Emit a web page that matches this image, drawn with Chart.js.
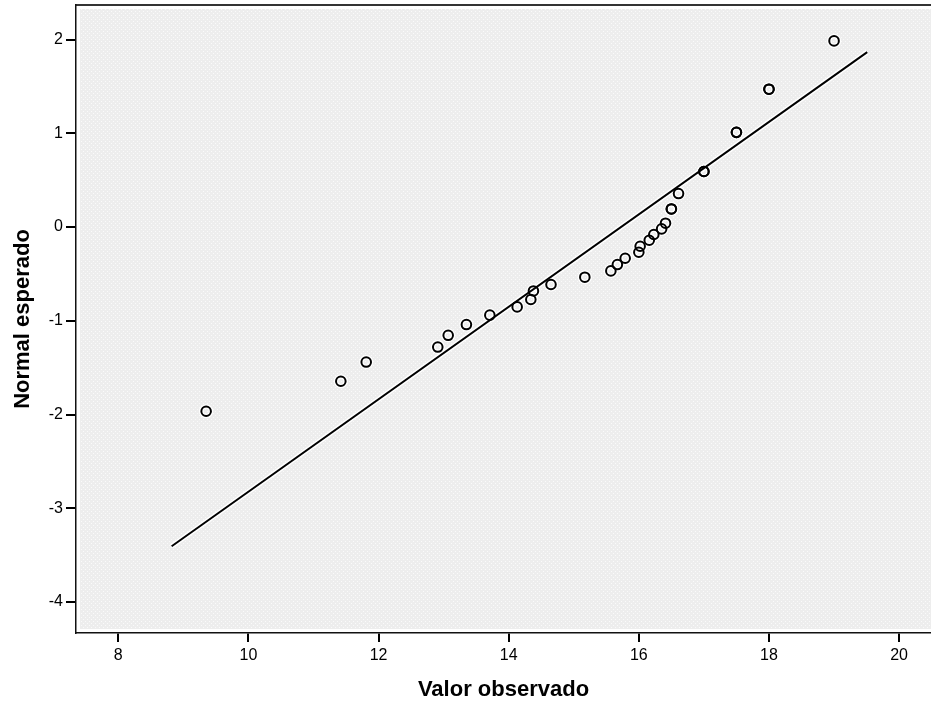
<!DOCTYPE html>
<html>
<head>
<meta charset="utf-8">
<script src="https://cdn.jsdelivr.net/npm/chart.js@4.4.1/dist/chart.umd.min.js"></script>
<style>
  html, body { margin: 0; padding: 0; background: #fff; }
</style>
</head>
<body>
<canvas id="myChart" width="931" height="704"></canvas>
<script>
// observed values and their expected normal scores (tied values listed twice)
const observed = [9.35, 11.42, 11.81, 12.91, 13.07, 13.35, 13.71, 14.13, 14.34, 14.38, 14.65, 15.17,
    15.57, 15.67, 15.79, 16.0, 16.02, 16.16, 16.23, 16.35, 16.41, 16.5, 16.5, 16.61, 17.0, 17.0,
    17.5, 17.5, 18.0, 18.0, 19.0];
const expected = [-1.965, -1.645, -1.44, -1.28, -1.155, -1.04, -0.94, -0.852, -0.773, -0.682, -0.613, -0.535,
    -0.468, -0.40, -0.333, -0.269, -0.205, -0.141, -0.08, -0.02, 0.041, 0.193, 0.193, 0.357, 0.592, 0.592,
    1.01, 1.01, 1.47, 1.47, 1.985];

// reference line end points
const lineX = [8.82, 19.51];
const lineY = [-3.405, 1.865];

const xTicks = [8, 10, 12, 14, 16, 18, 20];
const yTicks = [-4, -3, -2, -1, 0, 1, 2];

const ctx = document.getElementById('myChart').getContext('2d');

const makePattern = () => {
    const c = document.createElement('canvas');
    c.width = 4; c.height = 4;
    const p = c.getContext('2d');
    p.fillStyle = '#ededed';
    p.fillRect(0, 0, 4, 4);
    p.fillStyle = '#fafafa';
    p.fillRect(1, 1, 1, 1);
    p.fillRect(3, 3, 1, 1);
    return ctx.createPattern(c, 'repeat');
};
const bgPattern = makePattern();

const points = observed.map((x, i) => ({ x: x, y: expected[i] }));
const refLine = lineX.map((x, i) => ({ x: x, y: lineY[i] }));

const framePlugin = {
    id: 'frame',
    beforeDraw(chart) {
        const { ctx, chartArea: a } = chart;
        ctx.save();
        ctx.fillStyle = '#fff';
        ctx.fillRect(a.left, a.top, a.right - a.left, a.bottom - a.top);
        ctx.fillStyle = bgPattern;
        ctx.fillRect(a.left + 4, a.top + 4, a.right - a.left - 4, a.bottom - a.top - 8);
        ctx.strokeStyle = '#333';
        ctx.lineWidth = 2;
        ctx.beginPath();
        ctx.moveTo(a.left, a.top);
        ctx.lineTo(a.right, a.top);
        ctx.stroke();
        ctx.restore();
    }
};

const font = 'Arial, "Liberation Sans", sans-serif';

const myChart = new Chart(ctx, {
    type: 'scatter',
    data: {
        datasets: [
            { data: points, pointRadius: 4.8, pointBorderWidth: 2, pointBorderColor: '#000',
              pointBackgroundColor: 'rgba(0,0,0,0)', showLine: false, order: 0 },
            { type: 'line', data: refLine, borderColor: '#000', borderWidth: 2, pointRadius: 0, order: 1 },
            { data: points, pointRadius: 4.8, pointBorderWidth: 4.5, pointBorderColor: '#fff',
              pointBackgroundColor: 'rgba(0,0,0,0)', showLine: false, order: 2 },
            { type: 'line', data: refLine, borderColor: '#fff', borderWidth: 5, pointRadius: 0, order: 3 },
        ]
    },
    options: {
        responsive: false,
        animation: false,
        devicePixelRatio: 1,
        layout: { autoPadding: false, padding: { top: 5, right: 0, left: 0, bottom: 0 } },
        plugins: {
            legend: { display: false },
            tooltip: { enabled: false },
        },
        scales: {
            x: {
                type: 'linear', min: 7.35, max: 20.49,
                afterBuildTicks: s => { s.ticks = xTicks.map(v => ({ value: v })); },
                afterFit: s => { s.height = 71; s.paddingLeft = 0; s.paddingRight = 0; },
                grid: { drawOnChartArea: false, drawTicks: true, tickLength: 9, color: '#000', lineWidth: 2 },
                border: { display: true, color: '#111', width: 1.5 },
                ticks: { color: '#000', font: { family: font, size: 16 }, padding: 4, maxRotation: 0 },
                title: { display: true, text: 'Valor observado', color: '#000',
                    font: { family: font, size: 22, weight: 'bold' }, padding: { top: 0, bottom: 1 } },
            },
            y: {
                type: 'linear', min: -4.33, max: 2.368,
                afterBuildTicks: s => { s.ticks = yTicks.map(v => ({ value: v })); },
                afterFit: s => { s.width = 76; s.paddingTop = 0; s.paddingBottom = 0; },
                grid: { drawOnChartArea: false, drawTicks: true, tickLength: 10, color: '#000', lineWidth: 2 },
                border: { display: true, color: '#111', width: 1.5 },
                ticks: { color: '#000', font: { family: font, size: 16 }, padding: 3 },
                title: { display: true, text: 'Normal esperado', color: '#000',
                    font: { family: font, size: 22, weight: 'bold' }, padding: { top: 10, bottom: 0 } },
            },
        },
    },
    plugins: [framePlugin],
});
</script>
</body>
</html>
